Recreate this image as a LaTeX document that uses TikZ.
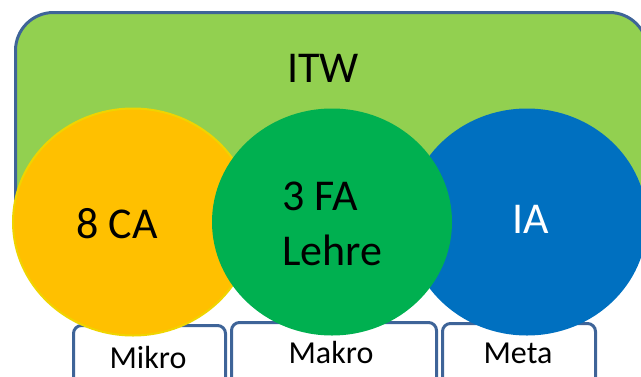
\documentclass[tikz,border=0pt]{standalone}
\usepackage{fontspec}
\setmainfont{Carlito}
\usetikzlibrary{shapes.geometric}
\definecolor{itwgreen}{HTML}{92D050}
\definecolor{frameblue}{RGB}{62,100,152}
\definecolor{caorange}{HTML}{FFC000}
\definecolor{caedge}{RGB}{240,212,0}
\definecolor{fagreen}{HTML}{00B050}
\definecolor{iablue}{HTML}{0070C0}
\begin{document}
\begin{tikzpicture}[x=1pt,y=-1pt,
  bigtext/.style={font=\fontsize{44}{55}\selectfont, inner sep=0pt},
  smalltext/.style={font=\fontsize{32}{38}\selectfont, inner sep=0pt},
  blob/.style={ellipse, inner sep=0pt, minimum width=240pt, minimum height=227pt},
  levelbox/.style={draw=frameblue, line width=3pt, fill=white, rounded corners=8pt, anchor=north west, inner sep=0pt}]
\useasboundingbox (0,0) rectangle (641,376);
\clip (0,0) rectangle (641,376);
% outer ITW frame
\node (itw) [draw=frameblue, line width=3pt, fill=itwgreen, rounded corners=38pt,
  anchor=north west, inner sep=0pt, minimum width=632pt, minimum height=234pt] at (14,11) {};
% level boxes
\node (mikrobox) [levelbox, minimum width=152pt, minimum height=80pt] at (72,324) {};
\node (makrobox) [levelbox, minimum width=205pt, minimum height=80pt] at (230,321) {};
\node (metabox)  [levelbox, minimum width=153pt, minimum height=80pt] at (441,322) {};
% circles
\node (ca) [blob, fill=caorange, draw=caedge, line width=2pt] at (133,222) {};
\node (ia) [blob, fill=iablue] at (527,222) {};
\node (fa) [blob, fill=fagreen] at (332,222) {};
% labels
\node (itwlabel) [bigtext, anchor=base] at (323,82) {ITW};
\node (calabel) [bigtext, anchor=base] at (117,238) {8 CA};
\node (falabel) [bigtext, align=left, anchor=base west] at (282,265) {3 FA\\Lehre};
\node (ialabel) [bigtext, anchor=base, text=white] at (531,233) {IA};
\node (mikrolabel) [smalltext, anchor=base] at (148,368) {Mikro};
\node (makrolabel) [smalltext, anchor=base] at (331,363) {Makro};
\node (metalabel)  [smalltext, anchor=base] at (518,363) {Meta};
\end{tikzpicture}
\end{document}
